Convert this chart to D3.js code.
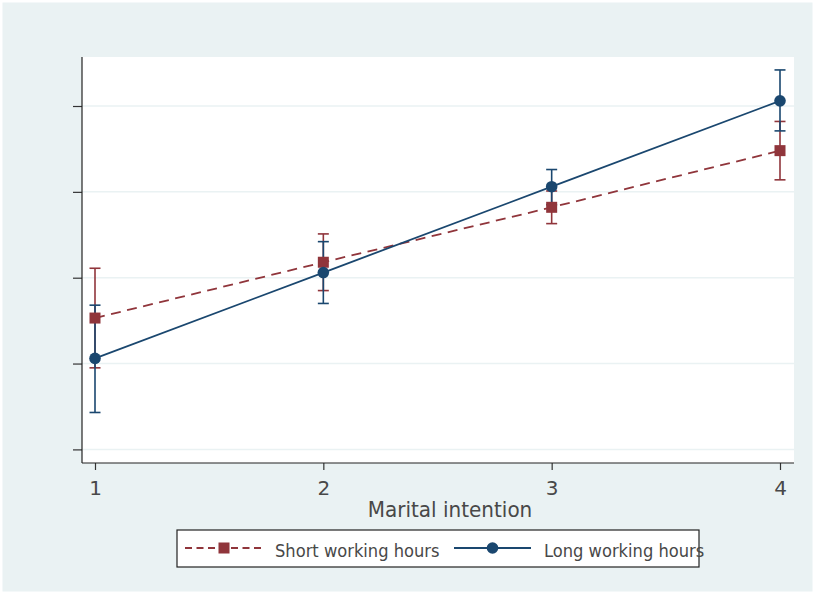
<!DOCTYPE html>
<html>
<head>
<meta charset="utf-8">
<script src="https://cdn.jsdelivr.net/npm/d3@7"></script>
<style>
  body { margin: 0; background: #ffffff; }
  svg text { font-family: "DejaVu Sans", sans-serif; fill: #484848; }
</style>
</head>
<body>
<div id="chart"></div>
<script>
// marital intention categories
var categories = [1, 2, 3, 4];

// unlabeled y ticks (the original shows tick marks only)
var yTicks = [0, 1, 2, 3, 4];

var shortMean = [1.53, 2.18, 2.82, 3.48];
var shortLo   = [0.95, 1.85, 2.63, 3.14];
var shortHi   = [2.11, 2.51, 3.01, 3.82];

var longMean  = [1.06, 2.06, 3.06, 4.06];
var longLo    = [0.43, 1.70, 2.85, 3.71];
var longHi    = [1.68, 2.42, 3.26, 4.42];

var seriesNames = ["Short working hours", "Long working hours"];

var colors = {
  short: "#90353b",
  long:  "#1a476f",
  bg:    "#eaf2f3"
};

var W = 815, H = 594;
var plot = { left: 82, right: 794, top: 57, bottom: 463 };

var svg = d3.select("#chart").append("svg")
  .attr("width", W)
  .attr("height", H);

// outer graph region
svg.append("rect")
  .attr("x", 2.5).attr("y", 2.5)
  .attr("width", W - 5).attr("height", H - 5)
  .style("fill", colors.bg);

// plot region
svg.append("rect")
  .attr("x", plot.left).attr("y", plot.top)
  .attr("width", plot.right - plot.left)
  .attr("height", plot.bottom - plot.top)
  .style("fill", "#ffffff");

var x = d3.scaleLinear()
  .domain([1, 4])
  .range([95, 780]);

// tick 0 sits at 449.4, ticks spaced 85.85px apart
var y = d3.scaleLinear()
  .domain([-(plot.bottom - 449.4) / 85.85, (449.4 - plot.top) / 85.85])
  .range([plot.bottom, plot.top]);

// grid
svg.append("g")
  .selectAll("line")
  .data(yTicks)
  .enter().append("line")
  .attr("x1", plot.left)
  .attr("x2", plot.right)
  .attr("y1", function(d) { return y(d); })
  .attr("y2", function(d) { return y(d); })
  .style("stroke", colors.bg)
  .style("stroke-width", 1.5);

// y axis, ticks only
var yAxis = svg.append("g")
  .attr("transform", "translate(" + plot.left + ",0)")
  .call(d3.axisLeft(y).tickValues(yTicks).tickSize(9).tickFormat(""));
yAxis.select(".domain").remove();
yAxis.selectAll(".tick line").style("stroke", "#333").style("stroke-width", 1.2);
yAxis.append("line")
  .attr("y1", plot.top).attr("y2", plot.bottom)
  .style("stroke", "#222").style("stroke-width", 1.2);

// x axis
var xAxis = svg.append("g")
  .attr("transform", "translate(0," + plot.bottom + ")")
  .call(d3.axisBottom(x).tickValues(categories).tickSize(7).tickPadding(11).tickFormat(d3.format("d")));
xAxis.select(".domain").remove();
xAxis.selectAll(".tick line").style("stroke", "#333").style("stroke-width", 1.2);
xAxis.selectAll(".tick text")
  .style("font-size", "20px")
  .style("font-family", "DejaVu Sans, sans-serif")
  .style("fill", "#484848");
xAxis.append("line")
  .attr("x1", plot.left).attr("x2", plot.right)
  .style("stroke", "#222").style("stroke-width", 1.2);

// title, slightly stretched vertically like the original
svg.append("text")
  .attr("transform", "translate(450,517) scale(1,1.07)")
  .attr("text-anchor", "middle")
  .style("font-size", "20px")
  .text("Marital intention");

function rows(mean, lo, hi) {
  return categories.map(function(c, i) {
    return { x: c, m: mean[i], lo: lo[i], hi: hi[i] };
  });
}

var series = [
  { key: "short", data: rows(shortMean, shortLo, shortHi), color: colors.short, dash: "10,6.5", marker: "square" },
  { key: "long",  data: rows(longMean, longLo, longHi),    color: colors.long,  dash: null,    marker: "circle" }
];

var line = d3.line()
  .x(function(d) { return x(d.x); })
  .y(function(d) { return y(d.m); });

var capW = 5.5;

series.forEach(function(s) {
  var g = svg.append("g").attr("class", "series-" + s.key);

  // error bars
  var bars = g.selectAll(".ci")
    .data(s.data)
    .enter().append("g")
    .style("stroke", s.color)
    .style("stroke-width", 1.6);

  bars.append("line")
    .attr("x1", function(d) { return x(d.x); })
    .attr("x2", function(d) { return x(d.x); })
    .attr("y1", function(d) { return y(d.lo); })
    .attr("y2", function(d) { return y(d.hi); });

  ["lo", "hi"].forEach(function(k) {
    bars.append("line")
      .attr("x1", function(d) { return x(d.x) - capW; })
      .attr("x2", function(d) { return x(d.x) + capW; })
      .attr("y1", function(d) { return y(d[k]); })
      .attr("y2", function(d) { return y(d[k]); });
  });

  g.append("path")
    .datum(s.data)
    .attr("d", line)
    .style("fill", "none")
    .style("stroke", s.color)
    .style("stroke-width", 1.8)
    .style("stroke-dasharray", s.dash);
});

// markers drawn on top
series.forEach(function(s) {
  var g = svg.append("g");
  if (s.marker === "square") {
    g.selectAll("rect")
      .data(s.data)
      .enter().append("rect")
      .attr("x", function(d) { return x(d.x) - 5.5; })
      .attr("y", function(d) { return y(d.m) - 5.5; })
      .attr("width", 11)
      .attr("height", 11)
      .style("fill", s.color);
  } else {
    g.selectAll("circle")
      .data(s.data)
      .enter().append("circle")
      .attr("cx", function(d) { return x(d.x); })
      .attr("cy", function(d) { return y(d.m); })
      .attr("r", 5.8)
      .style("fill", s.color);
  }
});

// legend
var legend = svg.append("g");
legend.append("rect")
  .attr("x", 177).attr("y", 530)
  .attr("width", 522).attr("height", 37)
  .style("fill", "#ffffff")
  .style("stroke", "#222")
  .style("stroke-width", 1.2);

var ly = 548;

legend.append("line")
  .attr("x1", 185).attr("x2", 262)
  .attr("y1", ly).attr("y2", ly)
  .style("stroke", colors.short)
  .style("stroke-width", 1.8)
  .style("stroke-dasharray", "7,4.5");
legend.append("rect")
  .attr("x", 218.5).attr("y", ly - 5.5)
  .attr("width", 11).attr("height", 11)
  .style("fill", colors.short);
legend.append("text")
  .attr("transform", "translate(275,557) scale(1,1.07)")
  .style("font-size", "16.3px")
  .text(seriesNames[0]);

legend.append("line")
  .attr("x1", 454).attr("x2", 531)
  .attr("y1", ly).attr("y2", ly)
  .style("stroke", colors.long)
  .style("stroke-width", 1.8);
legend.append("circle")
  .attr("cx", 492.5).attr("cy", ly)
  .attr("r", 5.8)
  .style("fill", colors.long);
legend.append("text")
  .attr("transform", "translate(544,557) scale(1,1.07)")
  .style("font-size", "16.3px")
  .text(seriesNames[1]);
</script>
</body>
</html>
